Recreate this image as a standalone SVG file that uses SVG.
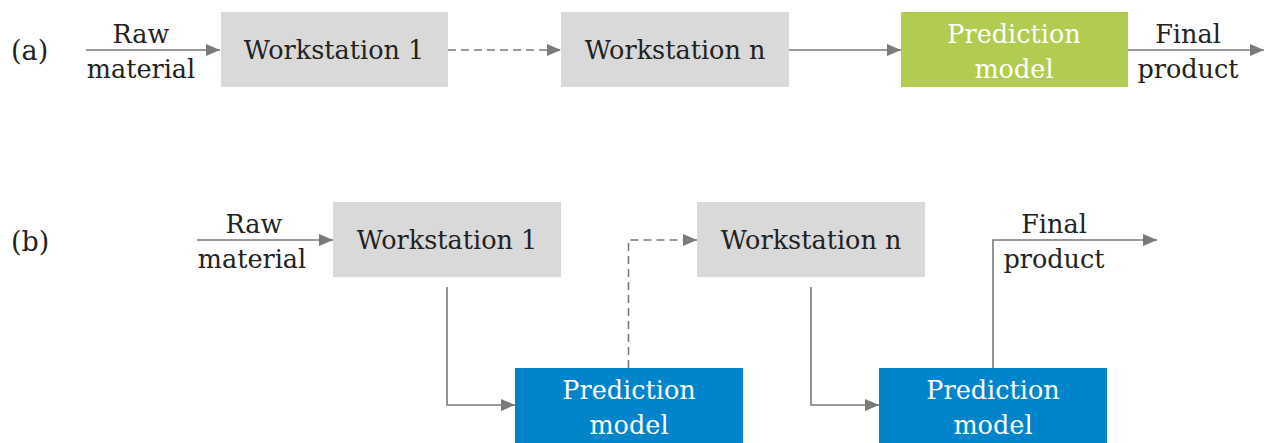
<svg xmlns="http://www.w3.org/2000/svg" width="1265" height="443" viewBox="0 0 1265 443">
<style>
text{font-family:"DejaVu Serif","Liberation Serif",serif;font-size:25.5px;fill:#222;text-anchor:middle}
.w{fill:#fff}
.lbl{text-anchor:start;font-size:27px}
.c{fill:none;stroke:#7a7a7a;stroke-width:1.6}
.d{stroke-dasharray:8,5}
.g{fill:#d9d9d9}
</style>
<defs>
<marker id="ah" markerWidth="14" markerHeight="12" refX="14" refY="6" orient="auto" markerUnits="userSpaceOnUse">
<path d="M0,0 L14,6 L0,12 z" fill="#7a7a7a"/>
</marker>
</defs>
<g id="labels">
<text class="lbl" x="11" y="60">(a)</text>
<text class="lbl" x="11" y="251">(b)</text>
</g>
<g id="connectors">
<path class="c" d="M86,50 H220" marker-end="url(#ah)"/>
<path class="c d" d="M448,50 H561" marker-end="url(#ah)"/>
<path class="c" d="M789,50 H901" marker-end="url(#ah)"/>
<path class="c" d="M1128,50 H1264" marker-end="url(#ah)"/>
<path class="c" d="M197,240 H333" marker-end="url(#ah)"/>
<path class="c" d="M447,287 V405 H515" marker-end="url(#ah)"/>
<path class="c d" d="M628.5,368 V240 H697" marker-end="url(#ah)"/>
<path class="c" d="M811,287 V405 H879" marker-end="url(#ah)"/>
<path class="c" d="M993,368 V240 H1157" marker-end="url(#ah)"/>
</g>
<g id="edge-labels">
<text x="141" y="43">Raw</text>
<text x="141" y="78">material</text>
<text x="1188" y="43">Final</text>
<text x="1188" y="78">product</text>
<text x="254" y="233">Raw</text>
<text x="252" y="268">material</text>
<text x="1054" y="233">Final</text>
<text x="1054" y="268">product</text>
</g>
<g id="ws1a"><rect class="g" x="221" y="12" width="227" height="75"/><text x="334" y="59">Workstation 1</text></g>
<g id="wsna"><rect class="g" x="561" y="12" width="228" height="75"/><text x="675" y="59">Workstation n</text></g>
<g id="pma"><rect x="901" y="12" width="227" height="75" fill="#b1cc50"/><text class="w" x="1014" y="43">Prediction</text><text class="w" x="1014" y="78">model</text></g>
<g id="ws1b"><rect class="g" x="333" y="202" width="228" height="75"/><text x="447" y="249">Workstation 1</text></g>
<g id="wsnb"><rect class="g" x="697" y="202" width="228" height="75"/><text x="811" y="249">Workstation n</text></g>
<g id="pmb1"><rect x="515" y="368" width="228" height="75" fill="#0084cc"/><text class="w" x="629" y="399">Prediction</text><text class="w" x="629" y="434">model</text></g>
<g id="pmb2"><rect x="879" y="368" width="228" height="75" fill="#0084cc"/><text class="w" x="993" y="399">Prediction</text><text class="w" x="993" y="434">model</text></g>
</svg>
